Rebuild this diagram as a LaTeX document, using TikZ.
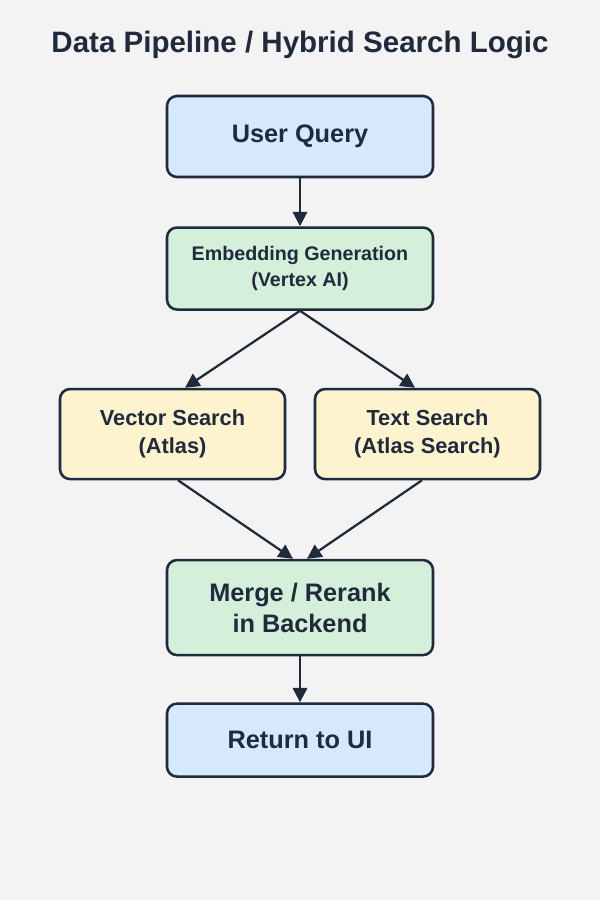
\documentclass[tikz,border=0pt]{standalone}
\usepackage{fontspec}
\setmainfont{Liberation Sans}
\usetikzlibrary{positioning,calc,arrows.meta}

\definecolor{bgcol}{HTML}{F3F3F3}
\definecolor{inkcol}{HTML}{1F2A3C}
\definecolor{bluefill}{HTML}{D5E8FC}
\definecolor{greenfill}{HTML}{D4F0DA}
\definecolor{yellowfill}{HTML}{FDF3CF}

\tikzset{
	stagebox/.style={draw=inkcol, line width=1.8pt, rounded corners=0.25cm,
		text=inkcol, align=center, font=\bfseries, inner sep=0pt},
	flow/.style={draw=inkcol, line width=1.6pt,
		-{Triangle[length=0.36cm, width=0.36cm]}},
}

\begin{document}
\begin{tikzpicture}
	\fill[bgcol] (0,0) rectangle (15,-22.5);
	\useasboundingbox (0,0) rectangle (15,-22.5);
	%
	\node[text=inkcol, font=\fontsize{21}{25}\selectfont\bfseries] (title) at (7.5,-1.125) {Data Pipeline / Hybrid Search Logic};
	\node[stagebox, fill=bluefill, minimum width=6.65cm, minimum height=2.025cm,
		font=\fontsize{18}{22}\selectfont\bfseries] (query) at (7.5,-3.4125) {User Query};
	\node[stagebox, fill=greenfill, minimum width=6.65cm, minimum height=2.05cm,
		font=\fontsize{14}{19}\selectfont\bfseries, below=1.2cm of query] (embed) {Embedding Generation\\(Vertex AI)};
	\node[stagebox, fill=yellowfill, minimum width=5.625cm, minimum height=2.25cm,
		font=\fontsize{15.5}{20}\selectfont\bfseries, below=1.925cm of embed, xshift=-3.1875cm] (vector) {Vector Search\\(Atlas)};
	\node[stagebox, fill=yellowfill, minimum width=5.625cm, minimum height=2.25cm,
		font=\fontsize{15.5}{20}\selectfont\bfseries, below=1.925cm of embed, xshift=3.1875cm] (text) {Text Search\\(Atlas Search)};
	\node[stagebox, fill=greenfill, minimum width=6.65cm, minimum height=2.375cm,
		font=\fontsize{18}{22}\selectfont\bfseries, below=6.2cm of embed] (merge) {Merge / Rerank\\in Backend};
	\node[stagebox, fill=bluefill, minimum width=6.65cm, minimum height=1.825cm,
		font=\fontsize{18}{22}\selectfont\bfseries, below=1.15cm of merge] (ret) {Return to UI};
	%
	\draw[flow] (query) -- (embed);
	\draw[flow] (embed.south) -- ($(vector.north)+(0.3125,0)$);
	\draw[flow] (embed.south) -- ($(text.north)+(-0.3125,0)$);
	\draw[flow] ($(vector.south)+(0.14,0)$) -- ($(merge.north)+(-0.175,0)$);
	\draw[flow] ($(text.south)+(-0.14,0)$) -- ($(merge.north)+(0.175,0)$);
	\draw[flow] (merge) -- (ret);
\end{tikzpicture}
\end{document}
